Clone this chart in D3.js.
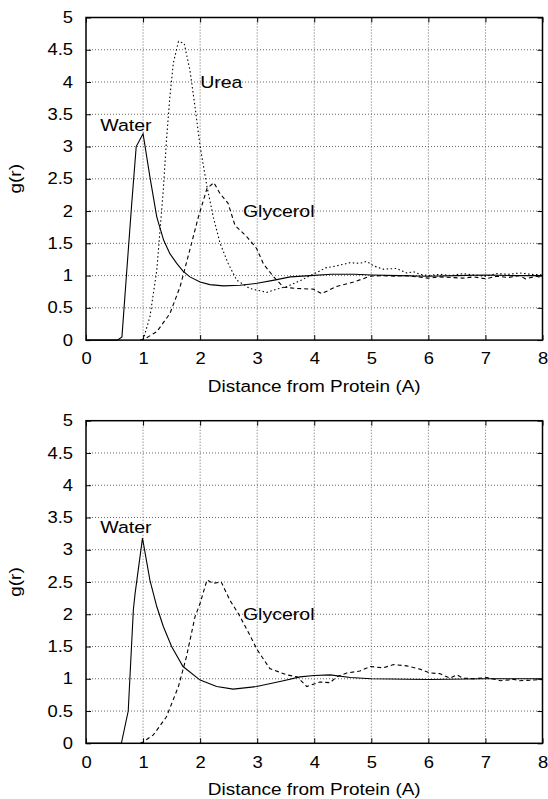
<!DOCTYPE html>
<html>
<head>
<meta charset="utf-8">
<script src="https://d3js.org/d3.v7.min.js"></script>
<style>
  body { margin: 0; background: #fff; }
  svg { display: block; font-family: "Liberation Sans", Arial, sans-serif; }
  .grid line { stroke: #666; stroke-width: 1; stroke-dasharray: 1,2; }
  .ticks line { stroke: #000; stroke-width: 1; }
</style>
</head>
<body>
<div id="chart"></div>
<script>
// g(r) around the protein: [distance, g(r)]
var waterTop = [[0,0],[0.55,0],[0.63,0.05],[0.7,0.9],[0.8,2.1],[0.88,3.0],[1.0,3.2],[1.12,2.53],[1.24,1.91],
  [1.36,1.55],[1.47,1.34],[1.59,1.19],[1.7,1.07],[1.82,0.98],[2.0,0.9],[2.17,0.86],[2.41,0.84],[2.7,0.85],
  [3.0,0.88],[3.3,0.93],[3.58,0.98],[3.93,1.0],[4.3,1.02],[4.7,1.02],[5.0,1.01],[5.5,1.0],[6,0.99],
  [6.5,1.0],[7,1.01],[7.5,1.0],[8,1.0]];
var ureaTop = [[1.0,0],[1.12,0.36],[1.24,1.08],[1.355,2.33],[1.41,3.1],[1.47,3.77],[1.53,4.29],[1.62,4.63],
  [1.72,4.6],[1.82,4.19],[1.91,3.62],[2.0,3.0],[2.12,2.38],[2.23,1.91],[2.35,1.5],[2.49,1.19],[2.64,0.93],
  [2.87,0.8],[3.17,0.74],[3.34,0.79],[3.52,0.83],[3.75,0.92],[3.98,1.02],[4.2,1.12],[4.39,1.15],[4.63,1.2],
  [4.8,1.19],[4.92,1.22],[5.04,1.15],[5.21,1.1],[5.44,1.11],[5.62,1.04],[5.74,1.06],[5.85,1.02],[6.0,1.0],
  [6.2,1.02],[6.4,1.0],[6.6,1.03],[6.8,1.01],[7.0,0.99],[7.2,1.03],[7.4,1.02],[7.6,1.04],[7.8,1.02],[8.0,1.01]];
var glycerolTop = [[0.95,0],[1.05,0.03],[1.24,0.13],[1.47,0.41],[1.65,0.83],[1.82,1.4],[1.97,1.91],[2.12,2.35],
  [2.24,2.44],[2.35,2.27],[2.49,2.12],[2.61,1.78],[2.82,1.6],[2.99,1.42],[3.11,1.18],[3.28,0.99],[3.46,0.82],
  [3.7,0.8],[3.98,0.79],[4.13,0.72],[4.39,0.83],[4.69,0.9],[4.98,0.99],[5.2,1.0],[5.4,0.99],[5.6,1.0],
  [5.8,0.98],[6.0,0.96],[6.2,0.98],[6.4,0.97],[6.6,0.96],[6.8,0.98],[7.0,0.95],[7.2,0.99],[7.4,0.97],
  [7.6,1.0],[7.7,0.95],[7.9,0.99],[8.0,0.96]];

var waterBottom = [[0,0],[0.62,0],[0.74,0.5],[0.83,2.07],[0.86,2.32],[0.99,3.18],[1.12,2.53],[1.24,2.12],
  [1.355,1.81],[1.5,1.5],[1.7,1.19],[2.0,0.98],[2.29,0.88],[2.58,0.84],[2.99,0.88],[3.46,0.97],[3.75,1.03],
  [4.0,1.05],[4.28,1.06],[4.63,1.02],[5.0,1.0],[6,0.99],[7,1.0],[8,1.0]];
var glycerolBottom = [[0.95,0],[1.0,0.02],[1.18,0.13],[1.41,0.41],[1.62,0.88],[1.76,1.34],[1.91,1.96],[2.0,2.17],
  [2.12,2.53],[2.23,2.48],[2.37,2.5],[2.52,2.22],[2.67,2.01],[2.87,1.68],[3.0,1.45],[3.22,1.16],[3.52,1.06],
  [3.7,1.03],[3.87,0.88],[4.1,0.95],[4.28,0.94],[4.39,1.03],[4.57,1.09],[4.8,1.12],[4.98,1.19],[5.21,1.17],
  [5.39,1.22],[5.62,1.2],[5.85,1.15],[6.03,1.09],[6.2,1.08],[6.38,1.01],[6.5,1.06],[6.61,1.01],[6.8,1.0],
  [7.03,1.02],[7.26,0.97],[7.5,0.99],[7.6,0.97],[7.85,0.98],[8.0,0.99]];

var labelsTop = [["Water", 0.25, 3.24], ["Urea", 2.0, 3.9], ["Glycerol", 2.75, 1.91]];
var labelsBottom = [["Water", 0.25, 3.26], ["Glycerol", 2.75, 1.91]];

var xTicks = [0, 1, 2, 3, 4, 5, 6, 7, 8];
var yTicks = [0, 0.5, 1, 1.5, 2, 2.5, 3, 3.5, 4, 4.5, 5];
var xTitle = "Distance from Protein (A)";
var yTitle = "g(r)";

var W = 548, H = 799;
var stretch = 1.15; // the original text is a little wide

var svg = d3.select("#chart").append("svg")
  .attr("width", W)
  .attr("height", H);

// put a text at x,y and widen it
function wide(sel, fs) {
  sel.each(function() {
    var t = d3.select(this);
    var x = +t.attr("x") || 0, y = +t.attr("y") || 0;
    t.attr("x", 0).attr("y", 0)
      .attr("transform", "translate(" + x + "," + y + ") scale(" + stretch + ",1)")
      .style("font-size", fs + "px");
  });
}

function panel(top, series, labels) {
  var left = 86, right = 542.5, bottom = top + 322.6;
  var x = d3.scaleLinear().domain([0, 8]).range([left, right]);
  var y = d3.scaleLinear().domain([0, 5]).range([bottom, top]);
  var g = svg.append("g");

  // grid
  var grid = g.append("g").attr("class", "grid");
  grid.selectAll("line.v").data(xTicks.slice(1, -1)).enter().append("line")
    .attr("x1", x).attr("x2", x).attr("y1", top).attr("y2", bottom);
  grid.selectAll("line.h").data(yTicks.slice(1, -1)).enter().append("line")
    .attr("y1", y).attr("y2", y).attr("x1", left).attr("x2", right);

  // inward ticks on every side, labels bottom and left
  var fmt = function(d) { return d; };
  var ax = g.append("g").attr("class", "ticks").attr("transform", "translate(0," + bottom + ")")
    .call(d3.axisBottom(x).tickValues(xTicks).tickSizeInner(-5).tickSizeOuter(0).tickPadding(13).tickFormat(fmt));
  var ay = g.append("g").attr("class", "ticks").attr("transform", "translate(" + left + ",0)")
    .call(d3.axisLeft(y).tickValues(yTicks).tickSizeInner(-5).tickSizeOuter(0).tickPadding(13).tickFormat(fmt));
  g.append("g").attr("class", "ticks").attr("transform", "translate(0," + top + ")")
    .call(d3.axisTop(x).tickValues(xTicks).tickSizeInner(-5).tickSizeOuter(0).tickFormat(""));
  g.append("g").attr("class", "ticks").attr("transform", "translate(" + right + ",0)")
    .call(d3.axisRight(y).tickValues(yTicks).tickSizeInner(-5).tickSizeOuter(0).tickFormat(""));
  g.selectAll(".domain").remove();
  [ax, ay].forEach(function(a) {
    a.selectAll("text").attr("fill", "#000").style("font-family", null);
    a.attr("font-family", null).attr("font-size", null);
  });
  wide(ax.selectAll("text"), 16);
  wide(ay.selectAll("text"), 16);

  // curves
  var line = d3.line().x(function(d) { return x(d[0]); }).y(function(d) { return y(d[1]); });
  series.forEach(function(s) {
    g.append("path").datum(s.data)
      .attr("d", line)
      .attr("fill", "none")
      .attr("stroke", "#000")
      .attr("stroke-width", 1.1)
      .attr("stroke-dasharray", s.dash);
  });

  // frame
  g.append("rect")
    .attr("x", left).attr("y", top)
    .attr("width", right - left).attr("height", bottom - top)
    .attr("fill", "none").attr("stroke", "#000").attr("stroke-width", 1.5);

  // curve names
  var lt = g.selectAll("text.lab").data(labels).enter().append("text")
    .attr("class", "lab")
    .attr("x", function(d) { return x(d[1]); })
    .attr("y", function(d) { return y(d[2]); })
    .text(function(d) { return d[0]; });
  wide(lt, 17);

  // axis titles
  var xt = g.append("text").attr("x", (left + right) / 2).attr("y", bottom + 52)
    .attr("text-anchor", "middle").text(xTitle);
  wide(xt, 16.5);
  g.append("text")
    .attr("transform", "translate(21," + (top + bottom) / 2 + ") rotate(-90) scale(" + stretch + ",1)")
    .attr("text-anchor", "middle")
    .style("font-size", "16.5px")
    .text(yTitle);
}

panel(17.5, [
  { data: waterTop, dash: null },
  { data: ureaTop, dash: "1.5,2.5" },
  { data: glycerolTop, dash: "4,3" }
], labelsTop);

panel(420.7, [
  { data: waterBottom, dash: null },
  { data: glycerolBottom, dash: "4,3" }
], labelsBottom);
</script>
</body>
</html>
